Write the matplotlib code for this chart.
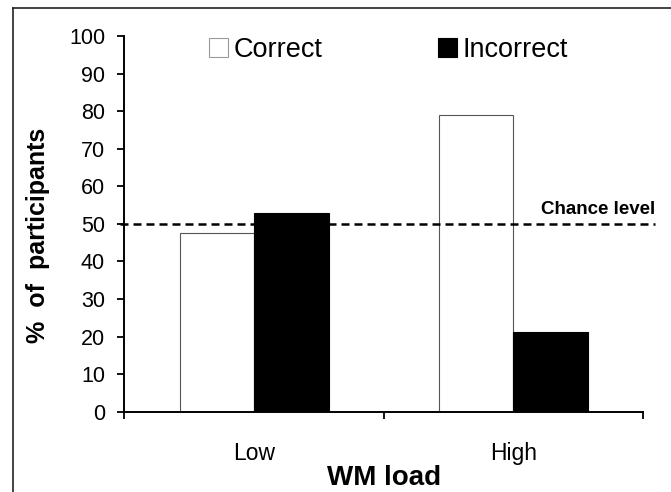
import numpy as np
import matplotlib
matplotlib.use("Agg")
import matplotlib.pyplot as plt
from matplotlib.patches import Patch
from matplotlib.lines import Line2D

plt.rcParams['font.family'] = ['Liberation Sans', 'DejaVu Sans']

# data
categories = ['Low', 'High']
correct = [47.5, 79.0]
incorrect = [52.8, 21.1]
chance_level = 50
series_names = ['Correct', 'Incorrect']

W, H = 671, 492
fig = plt.figure(figsize=(W / 100, H / 100), dpi=100)
ax = fig.add_axes([124.5 / W, 1 - 411.7 / H, (643 - 124.5) / W, (411.7 - 36) / H])

x = np.arange(len(categories))
bw = 0.287
ax.bar(x - bw / 2, correct, bw, color='white', edgecolor='#555555', linewidth=0.8, zorder=2)
ax.bar(x + bw / 2, incorrect, bw, color='black', edgecolor='black', linewidth=0.8, zorder=2)

# chance level line, runs a bit past the axes on both sides
ax.plot([-0.517, 1.546], [chance_level, chance_level], color='black', lw=1.8,
        dashes=(3.2, 2.0), clip_on=False, zorder=3)
ax.text(1.546, chance_level + 3.7, 'Chance level', ha='right', va='center',
        fontsize=13.5, fontweight='bold')

ax.set_xlim(-0.5, 1.5)
ax.set_ylim(0, 100)
ax.set_yticks(np.arange(0, 101, 10))
ax.tick_params(axis='y', labelsize=15.5, length=5, width=1.3, direction='out', pad=9)
ax.set_xticks([-0.5, 0.5, 1.5])
ax.set_xticklabels([])
ax.tick_params(axis='x', which='major', length=5, width=1.3, direction='out')
ax.set_xticks(x, minor=True)
ax.set_xticklabels(categories, minor=True)
ax.tick_params(axis='x', which='minor', length=0, labelsize=16.5, pad=22)

for s in ['top', 'right']:
    ax.spines[s].set_visible(False)
for s in ['left', 'bottom']:
    ax.spines[s].set_linewidth(1.4)

ax.set_xlabel('WM load', fontsize=20, fontweight='bold', labelpad=0)
fig.text(38 / W, 1 - 235 / H, '%  of  participants', rotation=90, ha='center', va='center',
         fontsize=18, fontweight='bold')

handles = [Patch(facecolor='white', edgecolor='#999999', linewidth=0.8),
           Patch(facecolor='black', edgecolor='black', linewidth=0.8)]
fig.legend(handles, series_names, ncol=2, frameon=False, fontsize=19.5,
           loc='center left', bbox_to_anchor=(209 / W, 1 - 50 / H),
           borderpad=0, borderaxespad=0, handlelength=0.7, handleheight=0.7,
           handletextpad=0.22, columnspacing=4.25)

# outer frame of the figure panel
fig.add_artist(Line2D([13 / W, 13 / W], [0, 1 - 8 / H], transform=fig.transFigure,
                      color='#222222', lw=1.2))
fig.add_artist(Line2D([13 / W, 1], [1 - 8 / H, 1 - 8 / H], transform=fig.transFigure,
                      color='#222222', lw=1.2))

fig.savefig('out.png', dpi=100)
